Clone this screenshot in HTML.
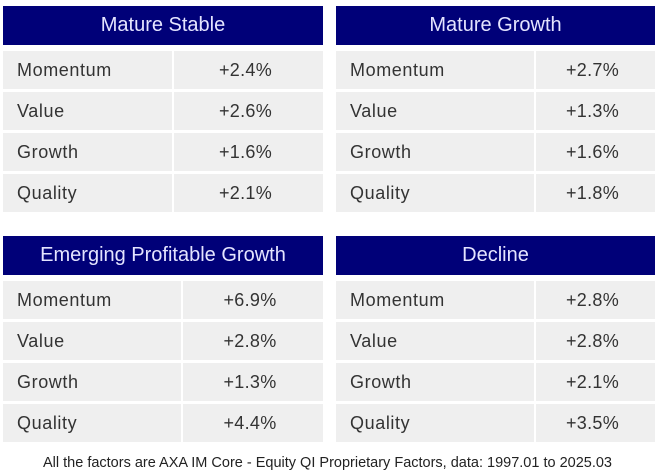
<!DOCTYPE html>
<html><head><style>
body{margin:0;width:655px;height:475px;background:#fff;position:relative;overflow:hidden;font-family:"Liberation Sans",sans-serif}
.h{position:absolute;height:39px;background:#000078;color:#e4e4ff;font-size:20px;line-height:39px;text-align:center}
.c{position:absolute;height:38px;background:#efefef;color:#333;font-size:18px;line-height:38px;letter-spacing:0.6px}
.l{padding-left:14px;box-sizing:border-box}
.v{text-align:center;letter-spacing:0.3px}
.f{position:absolute;top:455px;left:0;width:655px;text-align:center;font-size:14.5px;color:#222}
</style></head><body>
<div class="h" style="left:3px;top:6px;width:320px">Mature Stable</div>
<div class="h" style="left:336px;top:6px;width:319px">Mature Growth</div>
<div class="h" style="left:3px;top:236px;width:320px">Emerging Profitable Growth</div>
<div class="h" style="left:336px;top:236px;width:319px">Decline</div>
<div id="t"></div>
<div class="f">All the factors are AXA IM Core - Equity QI Proprietary Factors, data: 1997.01 to 2025.03</div>
<script>
var T=[[3,51,173,323,["+2.4%","+2.6%","+1.6%","+2.1%"]],[336,51,535,655,["+2.7%","+1.3%","+1.6%","+1.8%"]],[3,281,182,323,["+6.9%","+2.8%","+1.3%","+4.4%"]],[336,281,535,655,["+2.8%","+2.8%","+2.1%","+3.5%"]]];
var N=["Momentum","Value","Growth","Quality"],h="";
T.forEach(function(t){for(var i=0;i<4;i++){var y=t[1]+i*41;
h+='<div class="c l" style="left:'+t[0]+'px;top:'+y+'px;width:'+(t[2]-t[0]-1)+'px">'+N[i]+'</div>';
h+='<div class="c v" style="left:'+(t[2]+1)+'px;top:'+y+'px;width:'+(t[3]-t[2]-1)+'px;padding-right:6px;box-sizing:border-box">'+t[4][i]+'</div>';}});
document.getElementById("t").innerHTML=h;
</script>
</body></html>
